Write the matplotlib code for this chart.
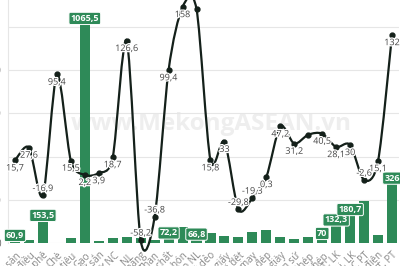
import matplotlib.pyplot as plt
import matplotlib.patheffects as pe
from matplotlib.path import Path
from matplotlib.patches import PathPatch

plt.rcParams['font.family'] = ['Open Sans', 'DejaVu Sans']

# mặt hàng (categories)
categories = [
    "Hàng thủy sản", "Hạt điều", "Cà phê", "Chè", "Hạt tiêu", "Gạo",
    "Sắn và SP từ sắn", "Bánh kẹo & SP từ NC", "TĂ gia súc, NL", "Clanhke và xi măng",
    "Than", "Hóa chất", "Phân bón", "Chất dẻo NL", "SP chất dẻo", "Giấy và SP từ giấy",
    "Xơ, sợi dệt", "Hàng dệt may", "Giày dép", "NPL dệt may, da giày", "SP gốm sứ",
    "Sắt thép", "SP từ sắt thép", "Máy vi tính, SP ĐT, LK", "Điện thoại, LK",
    "Máy móc TB DC PT", "Dây điện và cáp điện", "Phương tiện VT, PT",
]
# kim ngạch (bars, left axis)
bar_values = [60.9, 14, 153.5, 2, 25, 1065.5, 9, 21, 30, 22, 12, 72.2, 75, 66.8,
              47, 33, 29, 52, 60, 28, 19, 29, 70, 132.3, 180.7, 195, 37, 326]
bar_labeled = [1, 0, 1, 0, 0, 1, 0, 0, 0, 0, 0, 1, 0, 1,
               0, 0, 0, 0, 0, 0, 0, 0, 1, 1, 1, 0, 0, 1]
# tăng trưởng % (line, right axis)
growth = [15.7, 27.6, -16.9, 95.4, 15.5, 2.2, 3.9, 18.7, 126.6, -58.2, -36.8, 99.4, 158, 156,
          15.8, 33, -29.8, -19.3, 0.3, 47.2, 31.2, 39.5, 40.5, 28.1, 30, -2.6, 15.1, 132]
growth_labeled = [1] * 13 + [0] + [1] * 7 + [0] + [1] * 6
left_ticks = [0, 200, 400, 600, 800, 1000]

GREEN = "#2e8a58"
LINE = "#14201a"


def fmt(v):
    return f"{v:g}".replace(".", ",")


fig = plt.figure(figsize=(4, 2.66), dpi=100)
ax = fig.add_axes([8 / 400, 23 / 266, 391 / 400, 243 / 266])
x = list(range(len(categories)))

ax.bar(x, bar_values, width=0.72, color=GREEN, zorder=2)
ax.set_xlim(-0.5, len(categories) - 0.5)
ax.set_ylim(0, 1125)
ax.set_yticks(left_ticks)
ax.set_yticklabels([str(t) for t in left_ticks], fontsize=7, color="#666")
ax.tick_params(axis="y", length=0, pad=5)
ax.grid(axis="y", color="#e6e6e6", lw=0.8, zorder=0)
for s in ["top", "right", "bottom"]:
    ax.spines[s].set_visible(False)
ax.spines["left"].set_color("#e6e6e6")
ax.set_xticks(x)
ax.set_xticklabels(categories, rotation=45, ha="right", rotation_mode="anchor",
                   fontsize=7, color="#888")
ax.tick_params(axis="x", length=0, pad=5)

for xi, v, show in zip(x, bar_values, bar_labeled):
    if show:
        ax.annotate(fmt(v), (xi, v), xytext=(0, -4), textcoords="offset points",
                    ha="center", va="center", fontsize=6.5, color="white", weight="bold",
                    bbox=dict(boxstyle="round,pad=0.18", fc=GREEN, ec="white", lw=0.7),
                    zorder=6)

ax.text(0.52, 0.49, "www.MekongASEAN.vn", transform=ax.transAxes, ha="center",
        va="center", fontsize=17.5, weight="bold", color="#eeeeee", zorder=1)

ax2 = ax.twinx()
ax2.set_ylim(-61, 164.5)
ax2.axis("off")

# smooth line through the points (cardinal spline as Bezier segments)
verts = [(x[0], growth[0])]
codes = [Path.MOVETO]
n = len(x)
for i in range(n - 1):
    p0 = (x[max(i - 1, 0)], growth[max(i - 1, 0)])
    p1 = (x[i], growth[i])
    p2 = (x[i + 1], growth[i + 1])
    p3 = (x[min(i + 2, n - 1)], growth[min(i + 2, n - 1)])
    c1 = (p1[0] + (p2[0] - p0[0]) / 7, p1[1] + (p2[1] - p0[1]) / 7)
    c2 = (p2[0] - (p3[0] - p1[0]) / 7, p2[1] - (p3[1] - p1[1]) / 7)
    verts += [c1, c2, p2]
    codes += [Path.CURVE4] * 3
ax2.add_patch(PathPatch(Path(verts, codes), fc="none", ec=LINE, lw=1.6,
                        zorder=4, clip_on=False))
ax2.plot(x, growth, "o", color=LINE, ms=3.5, zorder=5, clip_on=False)

halo = [pe.withStroke(linewidth=1.8, foreground="white")]
for xi, v, show in zip(x, growth, growth_labeled):
    if show:
        dy = -5.5 if v >= 0 else 5
        ax2.annotate(fmt(v), (xi, v), xytext=(0, dy), textcoords="offset points",
                     ha="center", va="center", fontsize=6.5, color="#444", zorder=6,
                     path_effects=halo)

fig.savefig("out.png", dpi=100)
